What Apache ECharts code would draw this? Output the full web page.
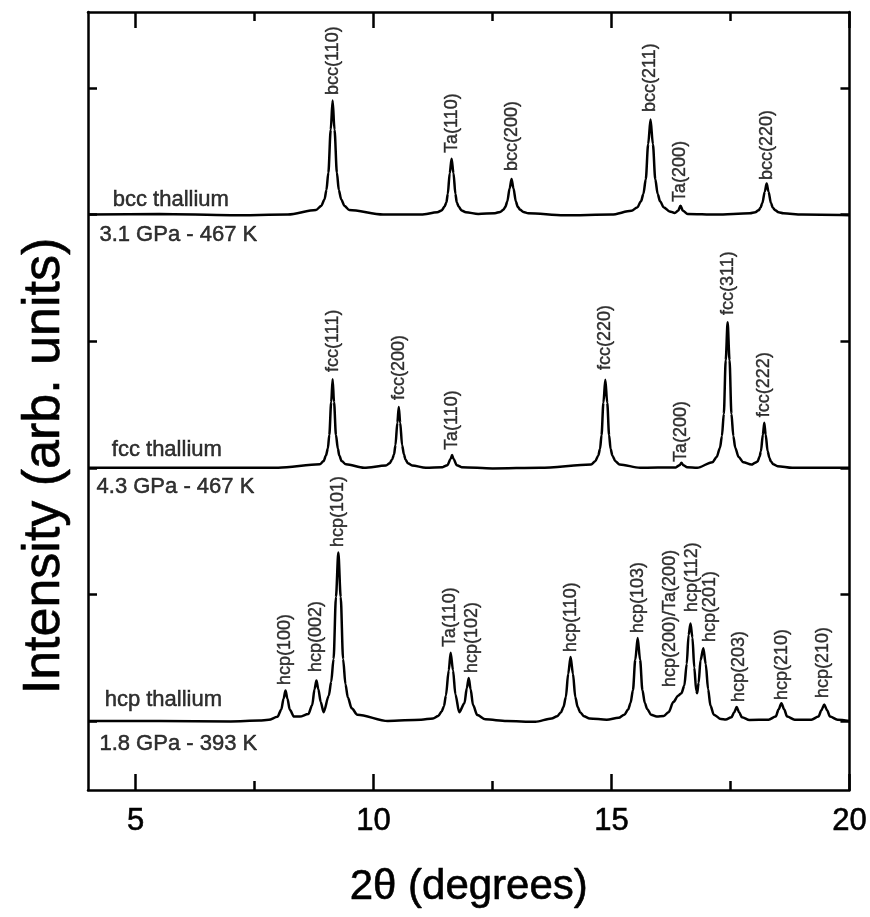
<!DOCTYPE html>
<html>
<head>
<meta charset="utf-8">
<script src="https://cdn.jsdelivr.net/npm/echarts@6/dist/echarts.min.js"></script>
<style>html,body{margin:0;padding:0;background:#fff;}#c{width:870px;height:917px;}</style>
</head>
<body>
<div id="c"></div>
<script>
// ---- Data (x = 2θ in degrees, y = intensity, arbitrary units incl. vertical offset) ----
var xTickValues = [5, 10, 15, 20];
var xMinorTickValues = [7.5, 12.5, 17.5];
var yTickValues = [0, 1, 2, 3, 4, 5];

var bccPattern = [
  [4.0, 4.00], [5.5, 4.005], [7.0, 3.995], [8.2, 4.0], [8.79, 4.036], [8.90, 4.068], [8.97, 4.12], [9.01, 4.195],
  [9.05, 4.33], [9.10, 4.67], [9.14, 4.90], [9.18, 4.67], [9.23, 4.33], [9.27, 4.195], [9.32, 4.12], [9.39, 4.068],
  [9.49, 4.036], [10.2, 4.0], [11.0, 4.0], [11.34, 4.018], [11.43, 4.033], [11.49, 4.062], [11.53, 4.095],
  [11.56, 4.163], [11.60, 4.326], [11.64, 4.44], [11.68, 4.326], [11.72, 4.163], [11.75, 4.095], [11.79, 4.062],
  [11.85, 4.033], [11.94, 4.018], [12.2, 4.005], [12.55, 4.011], [12.66, 4.021], [12.73, 4.039], [12.77, 4.061],
  [12.81, 4.104], [12.86, 4.207], [12.90, 4.28], [12.94, 4.207], [12.99, 4.104], [13.03, 4.061], [13.08, 4.039],
  [13.15, 4.021], [13.25, 4.011], [14.0, 3.995], [15.0, 4.0], [15.42, 4.03], [15.54, 4.056], [15.62, 4.105],
  [15.67, 4.163], [15.72, 4.278], [15.77, 4.555], [15.82, 4.75], [15.87, 4.555], [15.92, 4.278], [15.97, 4.163],
  [16.02, 4.105], [16.10, 4.056], [16.22, 4.025], [16.33, 4.012], [16.40, 4.03], [16.45, 4.07], [16.50, 4.03],
  [16.60, 4.005], [17.2, 4.0], [17.91, 4.01], [18.02, 4.018], [18.09, 4.034], [18.13, 4.053], [18.17, 4.091],
  [18.22, 4.181], [18.26, 4.245], [18.30, 4.181], [18.35, 4.091], [18.39, 4.053], [18.44, 4.034], [18.51, 4.018],
  [18.61, 4.01], [19.0, 4.0], [20.0, 3.995]
];

var fccPattern = [
  [4.0, 2.0], [6.0, 2.0], [8.0, 2.0], [8.87, 2.027], [8.95, 2.053], [9.00, 2.097], [9.04, 2.152], [9.07, 2.259],
  [9.11, 2.518], [9.14, 2.70], [9.17, 2.518], [9.21, 2.259], [9.25, 2.152], [9.28, 2.097], [9.33, 2.053],
  [9.42, 2.027], [9.8, 2.0], [10.26, 2.018], [10.34, 2.036], [10.39, 2.066], [10.43, 2.104], [10.46, 2.178],
  [10.50, 2.355], [10.53, 2.48], [10.56, 2.355], [10.60, 2.178], [10.64, 2.104], [10.67, 2.066], [10.72, 2.036],
  [10.81, 2.018], [11.1, 2.0], [11.45, 2.005], [11.55, 2.02], [11.62, 2.07], [11.65, 2.10], [11.68, 2.07],
  [11.75, 2.02], [11.85, 2.005], [12.5, 1.995], [13.5, 2.0], [14.57, 2.026], [14.66, 2.052], [14.72, 2.096],
  [14.76, 2.151], [14.79, 2.257], [14.83, 2.514], [14.87, 2.695], [14.91, 2.514], [14.95, 2.257], [14.98, 2.151],
  [15.02, 2.096], [15.08, 2.052], [15.17, 2.026], [15.6, 2.0], [16.35, 2.003], [16.43, 2.02], [16.47, 2.04],
  [16.51, 2.02], [16.59, 2.005], [16.8, 2.0], [17.12, 2.044], [17.21, 2.086], [17.28, 2.159], [17.32, 2.25],
  [17.36, 2.426], [17.40, 2.851], [17.44, 3.15], [17.48, 2.851], [17.52, 2.426], [17.56, 2.25], [17.60, 2.159],
  [17.67, 2.086], [17.77, 2.044], [17.94, 2.025], [18.02, 2.04], [18.07, 2.05], [18.11, 2.087], [18.14, 2.131],
  [18.18, 2.261], [18.21, 2.355], [18.24, 2.261], [18.28, 2.131], [18.32, 2.077], [18.35, 2.049], [18.40, 2.027],
  [18.49, 2.013], [18.8, 2.0], [20.0, 2.0]
];

var hcpPattern = [
  [4.0, 0.0], [5.5, 0.0], [7.0, -0.003], [7.6, 0.003], [7.80, 0.009], [7.98, 0.033], [8.06, 0.089], [8.11, 0.178],
  [8.15, 0.24], [8.19, 0.178], [8.24, 0.089], [8.33, 0.035], [8.45, 0.035], [8.63, 0.055], [8.71, 0.125],
  [8.76, 0.25], [8.80, 0.32], [8.84, 0.25], [8.89, 0.15], [8.95, 0.07], [9.06, 0.20], [9.11, 0.31], [9.16, 0.49],
  [9.21, 0.98], [9.26, 1.33], [9.31, 0.98], [9.36, 0.49], [9.41, 0.29], [9.46, 0.186], [9.54, 0.10], [9.66, 0.05],
  [10.3, 0.0], [11.0, 0.01], [11.25, 0.02], [11.36, 0.04], [11.43, 0.075], [11.48, 0.117], [11.52, 0.20],
  [11.58, 0.40], [11.62, 0.54], [11.67, 0.40], [11.72, 0.21], [11.80, 0.07], [11.91, 0.14], [11.96, 0.26],
  [12.00, 0.34], [12.04, 0.25], [12.09, 0.126], [12.18, 0.047], [12.35, 0.013], [12.8, 0.0], [13.4, -0.006],
  [13.74, 0.02], [13.86, 0.038], [13.94, 0.07], [13.99, 0.11], [14.04, 0.187], [14.09, 0.373], [14.14, 0.505],
  [14.19, 0.373], [14.24, 0.187], [14.29, 0.11], [14.34, 0.07], [14.42, 0.038], [14.54, 0.02], [14.9, 0.01],
  [15.15, 0.025], [15.27, 0.05], [15.35, 0.09], [15.40, 0.142], [15.45, 0.242], [15.50, 0.485], [15.55, 0.655],
  [15.60, 0.485], [15.65, 0.242], [15.70, 0.142], [15.75, 0.095], [15.83, 0.05], [15.95, 0.035], [16.10, 0.04],
  [16.20, 0.07], [16.30, 0.15], [16.40, 0.20], [16.47, 0.22], [16.53, 0.28], [16.58, 0.45], [16.62, 0.68],
  [16.66, 0.77], [16.70, 0.66], [16.74, 0.42], [16.78, 0.24], [16.80, 0.22], [16.83, 0.30], [16.87, 0.48],
  [16.93, 0.575], [16.98, 0.45], [17.03, 0.25], [17.08, 0.12], [17.15, 0.05], [17.30, 0.015], [17.40, 0.012],
  [17.52, 0.03], [17.58, 0.07], [17.63, 0.11], [17.68, 0.07], [17.74, 0.03], [17.90, 0.008], [18.30, 0.01],
  [18.45, 0.035], [18.51, 0.09], [18.57, 0.14], [18.63, 0.09], [18.69, 0.035], [18.85, 0.01], [19.20, 0.01],
  [19.35, 0.035], [19.41, 0.085], [19.47, 0.13], [19.53, 0.085], [19.59, 0.035], [19.75, 0.01], [20.0, 0.0]
];

// Peak labels: text, x (2θ) and y of the bottom end of the (vertical) label
var peakLabelText = [
  'bcc(110)', 'Ta(110)', 'bcc(200)', 'bcc(211)', 'Ta(200)', 'bcc(220)',
  'fcc(111)', 'fcc(200)', 'Ta(110)', 'fcc(220)', 'Ta(200)', 'fcc(311)', 'fcc(222)',
  'hcp(100)', 'hcp(002)', 'hcp(101)', 'Ta(110)', 'hcp(102)', 'hcp(110)', 'hcp(103)',
  'hcp(200)/Ta(200)', 'hcp(112)', 'hcp(201)', 'hcp(203)', 'hcp(210)', 'hcp(210)'
];
var peakLabelX = [
  9.14, 11.64, 12.90, 15.82, 16.45, 18.26,
  9.14, 10.53, 11.65, 14.87, 16.47, 17.44, 18.21,
  8.15, 8.80, 9.26, 11.60, 12.06, 14.14, 15.55,
  16.24, 16.70, 17.08, 17.69, 18.59, 19.45
];
var peakLabelY = [
  4.945, 4.487, 4.344, 4.81, 4.10, 4.273,
  2.757, 2.536, 2.141, 2.773, 2.046, 3.207, 2.40,
  0.284, 0.387, 1.374, 0.585, 0.379, 0.545, 0.695,
  0.269, 0.861, 0.624, 0.15, 0.166, 0.182
];

// Phase / condition annotations
var noteText = ['bcc thallium', '3.1 GPa - 467 K', 'fcc thallium', '4.3 GPa - 467 K', 'hcp thallium', '1.8 GPa - 393 K'];
var noteX = [4.52, 4.24, 4.50, 4.18, 4.35, 4.24];
var noteY = [4.115, 3.84, 2.14, 1.85, 0.166, -0.18];

var xTitle = '2θ (degrees)';
var yTitle = 'Intensity (arb. units)';

// ---- Chart ----
var FONT = "'Liberation Sans', Arial, Helvetica, sans-serif";
var BLACK = '#000';
var chart = echarts.init(document.getElementById('c'), null, {renderer: 'canvas'});

function pairs(xs, ys, names) {
  return xs.map(function (x, i) { return {name: names[i], value: [x, ys[i]]}; });
}

var frameLine = {show: true, onZero: false, lineStyle: {color: BLACK, width: 2.5}};
function xAx(pos, ticks, len, withLabel, showLine) {
  var a = {
    type: 'value', min: 4, max: 20, position: pos,
    axisLine: showLine ? frameLine : {show: false, onZero: false},
    axisTick: {show: true, inside: true, length: len, customValues: ticks, lineStyle: {color: BLACK, width: 2.5}},
    axisLabel: {show: false},
    splitLine: {show: false}
  };
  if (withLabel) {
    a.axisLabel = {show: true, customValues: xTickValues, color: BLACK, fontSize: 31, fontFamily: FONT, margin: 16,
      textBorderColor: BLACK, textBorderWidth: 0.6};
    a.name = xTitle;
    a.nameLocation = 'middle';
    a.nameGap = 76;
    a.nameTextStyle = {color: BLACK, fontSize: 42, fontFamily: FONT, textBorderColor: BLACK, textBorderWidth: 0.6};
  }
  return a;
}
function yAx(pos, withName) {
  var a = {
    type: 'value', min: -0.545, max: 5.6, position: pos,
    axisLine: frameLine,
    axisTick: {show: true, inside: true, length: 9, customValues: yTickValues, lineStyle: {color: BLACK, width: 2.5}},
    axisLabel: {show: false},
    splitLine: {show: false}
  };
  if (withName) {
    a.name = yTitle;
    a.nameLocation = 'middle';
    a.nameGap = 17;
    a.nameTextStyle = {color: BLACK, fontSize: 52, fontFamily: FONT, padding: [0, 130, 0, 0],
      textBorderColor: BLACK, textBorderWidth: 0.6};
  }
  return a;
}

function lineSeries(name, data) {
  return {
    name: name, type: 'line', data: data, xAxisIndex: 0, yAxisIndex: 0,
    showSymbol: false, symbol: 'none', smooth: 0.3, smoothMonotone: 'x', silent: true,
    lineStyle: {color: BLACK, width: 2.5}, clip: true
  };
}

var option = {
  animation: false,
  backgroundColor: '#fff',
  grid: {left: 88, right: 20, top: 12, bottom: 127, containLabel: false},
  xAxis: [
    xAx('bottom', xTickValues, 16, true, true),
    xAx('bottom', xMinorTickValues, 9, false, false),
    xAx('top', xTickValues, 16, false, true),
    xAx('top', xMinorTickValues, 9, false, false)
  ],
  yAxis: [yAx('left', true), yAx('right', false)],
  series: [
    lineSeries('bcc', bccPattern),
    lineSeries('fcc', fccPattern),
    lineSeries('hcp', hcpPattern),
    {
      name: 'peak labels', type: 'scatter', xAxisIndex: 0, yAxisIndex: 0, symbolSize: 0, silent: true,
      data: pairs(peakLabelX, peakLabelY, peakLabelText),
      label: {show: true, formatter: '{b}', position: 'top', distance: 0, rotate: 90, align: 'left', verticalAlign: 'middle',
        color: BLACK, fontSize: 18, fontFamily: FONT, textBorderColor: BLACK, textBorderWidth: 0.4}
    },
    {
      name: 'notes', type: 'scatter', xAxisIndex: 0, yAxisIndex: 0, symbolSize: 0, silent: true,
      data: pairs(noteX, noteY, noteText),
      label: {show: true, formatter: '{b}', position: 'right', distance: 0, align: 'left', verticalAlign: 'middle',
        color: BLACK, fontSize: 22, fontFamily: FONT, textBorderColor: BLACK, textBorderWidth: 0.5}
    }
  ]
};
chart.setOption(option);
</script>
</body>
</html>
